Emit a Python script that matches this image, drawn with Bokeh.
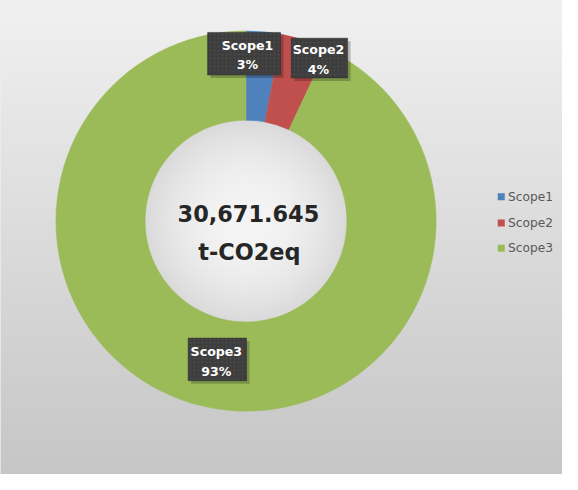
import numpy as np
from bokeh.plotting import figure
from bokeh.models import Range1d, ColumnDataSource
from bokeh.core.properties import value
from bokeh.embed import file_html
from bokeh.resources import INLINE

# ---- data ----
categories = ["Scope1", "Scope2", "Scope3"]
shares = [3, 4, 93]            # percent of total
total = 30671.645              # t-CO2eq
unit = "t-CO2eq"
colors = ["#4F81BD", "#C0504D", "#9BBB59"]

# ---- layout: reference 578x490 mapped into the 562x474 figure ----
W, H = 562, 474
SX, SY = W / 578.0, H / 490.0
S = (SX + SY) / 2
def fx(xr):
    return xr * SX
def fy(yr):
    return H - yr * SY

cx, cy = fx(252.5), fy(228)
R_OUT, R_IN = 196 * S, 104 * S

p = figure(width=W, height=H, x_range=Range1d(0, W), y_range=Range1d(0, H),
           output_backend="svg", toolbar_location=None, min_border=0,
           x_axis_type=None, y_axis_type=None, outline_line_color=None)
p.grid.visible = False
p.background_fill_color = "#dddddd"
p.border_fill_color = "white"

# ---- background gradient (style only) ----
yy, xx = np.mgrid[0:H, 0:W].astype(float) + 0.5
ref_y = (H - yy) / SY
base = 0xF1 + (0xC6 - 0xF1) * (ref_y / 490.0)
r = np.hypot(xx - cx, yy - cy)
hole = 0xF5 - (0xF5 - 0xDA) * np.clip(r / R_IN, 0, 1) ** 2
val = np.where(r < R_IN + 2, hole, base)
val = np.clip(val, 0, 255).astype(np.uint8)
img = np.empty((H, W), dtype=np.uint32)
view = img.view(dtype=np.uint8).reshape((H, W, 4))
view[:, :, 0] = val
view[:, :, 1] = val
view[:, :, 2] = val
view[:, :, 3] = 255
p.image_rgba(image=[img], x=0, y=0, dw=W, dh=H)

# ---- doughnut ----
fr = np.array(shares, dtype=float) / sum(shares)
cum = np.concatenate([[0], np.cumsum(fr)])
start = np.pi / 2 - 2 * np.pi * cum[:-1]
end = np.pi / 2 - 2 * np.pi * cum[1:]
src = ColumnDataSource(dict(cat=categories, start=start, end=end, color=colors))
p.annular_wedge(x=cx, y=cy, inner_radius=R_IN, outer_radius=R_OUT,
                start_angle="start", end_angle="end", direction="clock",
                fill_color="color", line_color="color", line_width=0.5, source=src)

# ---- data labels (boxes) ----
box_cx = [fx(250.5), fx(328), fx(223)]
box_cy = [fy(55), fy(59.5), fy(371)]
box_w = [75 * SX, 58 * SX, 60 * SX]
box_h = [44 * SY, 41 * SY, 44 * SY]
txt_x = [fx(254), fx(327), fx(222)]
txt_y = [fy(56.5), fy(61), fy(373)]
p.rect(x=[x + 3 for x in box_cx], y=[y - 3 for y in box_cy], width=box_w, height=box_h,
       fill_color="black", fill_alpha=0.22, line_color=None)
p.rect(x=box_cx, y=box_cy, width=box_w, height=box_h,
       fill_color="#3d3d3d", line_color="#2e2e2e", line_width=0.5,
       hatch_pattern="dot", hatch_color="#4a4a4a", hatch_scale=4)
labels = [f"{c}\n{s}%" for c, s in zip(categories, shares)]
p.text(x=txt_x, y=txt_y, text=labels, text_font=value("DejaVu Sans"),
       text_font_style="bold", text_font_size="12.6px", text_color="white",
       text_align="center", text_baseline="middle", text_line_height=1.3)

# ---- centre text ----
p.text(x=[fx(255)], y=[fy(220)], text=[f"{total:,.3f}"], text_font=value("DejaVu Sans"),
       text_font_style="bold", text_font_size="22.4px", text_color="#262626",
       text_align="center", text_baseline="alphabetic")
p.text(x=[fx(256)], y=[fy(260)], text=[unit], text_font=value("DejaVu Sans"),
       text_font_style="bold", text_font_size="22.4px", text_color="#262626",
       text_align="center", text_baseline="alphabetic")

# ---- legend ----
leg_y = [fy(203), fy(230), fy(256)]
p.scatter(x=[fx(515)] * 3, y=leg_y, marker="square", size=7,
          fill_color=colors, line_color=None)
p.text(x=[fx(522)] * 3, y=leg_y, text=categories, text_font=value("DejaVu Sans"),
       text_font_size="12.2px", text_color="#595959",
       text_align="left", text_baseline="middle")

open("out.html", "w").write(file_html(p, INLINE))
